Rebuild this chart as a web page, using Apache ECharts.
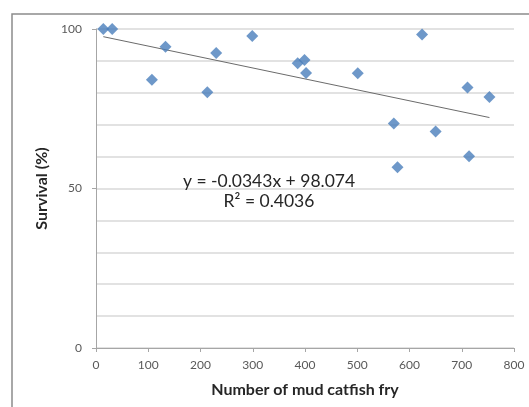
<!DOCTYPE html>
<html>
<head>
<meta charset="utf-8">
<script src="https://cdn.jsdelivr.net/npm/echarts@6/dist/echarts.min.js"></script>
<style>
  html, body { margin: 0; padding: 0; background: #fff; }
  #chart { width: 529px; height: 407px; }
</style>
</head>
<body>
<div id="chart"></div>
<script>
// Number of mud catfish fry stocked vs. survival (%)
const fryCount = [14, 31, 107, 133, 213, 230, 299, 386, 399, 402, 501, 570, 577, 624, 650, 711, 714, 753];
const survival = [100, 100, 84.1, 94.4, 80.2, 92.5, 97.8, 89.3, 90.3, 86.2, 86.1, 70.4, 56.7, 98.3, 67.9, 81.7, 60.1, 78.7];

// Linear trendline as reported on the chart
const slope = -0.0343;
const intercept = 98.074;
const rSquared = 0.4036;

const xTicks = [0, 100, 200, 300, 400, 500, 600, 700, 800];
const yLabels = [0, 50, 100];

const points = fryCount.map((x, i) => [x, survival[i]]);
const xMin = Math.min(...fryCount);
const xMax = Math.max(...fryCount);
const trend = [xMin, xMax].map(x => [x, slope * x + intercept]);

const font = 'Lato, "Open Sans", sans-serif';
const chart = echarts.init(document.getElementById('chart'), null, { renderer: 'canvas' });

chart.setOption({
  animation: false,
  backgroundColor: '#ffffff',
  grid: { left: 96, top: 29, right: 15, bottom: 59, containLabel: false },
  xAxis: {
    type: 'value',
    min: xTicks[0],
    max: xTicks[xTicks.length - 1],
    interval: 100,
    name: 'Number of mud catfish fry',
    nameLocation: 'middle',
    nameGap: 34,
    nameTextStyle: { fontFamily: font, fontWeight: 'bold', fontSize: 16, color: '#262626' },
    axisLine: { show: true, onZero: false, lineStyle: { color: '#a6a6a6', width: 1 } },
    axisTick: { show: true, length: 4, inside: false, lineStyle: { color: '#a6a6a6' } },
    axisLabel: { margin: 11, fontFamily: font, fontSize: 12, color: '#595959' },
    splitLine: { show: false }
  },
  yAxis: {
    type: 'value',
    min: yLabels[0],
    max: yLabels[yLabels.length - 1],
    interval: 50,
    name: 'Survival (%)',
    nameLocation: 'middle',
    nameGap: 43,
    nameTextStyle: { fontFamily: font, fontWeight: 'bold', fontSize: 16, color: '#262626' },
    axisLine: { show: true, lineStyle: { color: '#a6a6a6', width: 1 } },
    axisTick: { show: true, length: 4, lineStyle: { color: '#a6a6a6' } },
    axisLabel: { margin: 14, fontFamily: font, fontSize: 12, color: '#595959' },
    splitLine: { show: true, lineStyle: { color: '#d9d9d9', width: 1.5 } },
    minorTick: { show: false, splitNumber: 5 },
    minorSplitLine: { show: true, lineStyle: { color: '#d9d9d9', width: 1.5 } }
  },
  series: [
    {
      name: 'Linear trend',
      type: 'line',
      data: trend,
      symbol: 'none',
      lineStyle: { color: '#6b6b6b', width: 1 },
      silent: true,
      z: 2
    },
    {
      name: 'Survival',
      type: 'scatter',
      data: points,
      symbol: 'diamond',
      symbolSize: [12, 12],
      itemStyle: { color: '#4a7ebb' },
      z: 3
    }
  ],
  graphic: [
    {
      type: 'rect',
      shape: { x: 12, y: 14, width: 600, height: 500 },
      style: { fill: 'none', stroke: '#8c8c8c', lineWidth: 1.5 },
      silent: true,
      z: -1
    },
    {
      type: 'text',
      x: 269,
      y: 181,
      style: {
        text: 'y = ' + slope.toFixed(4) + 'x + ' + intercept.toFixed(3),
        font: '17.5px ' + font,
        fill: '#262626',
        align: 'center',
        verticalAlign: 'middle'
      },
      z: 10
    },
    {
      type: 'text',
      x: 269,
      y: 201,
      style: {
        text: 'R² = ' + rSquared.toFixed(4),
        font: '17.5px ' + font,
        fill: '#262626',
        align: 'center',
        verticalAlign: 'middle'
      },
      z: 10
    }
  ]
});
</script>
</body>
</html>
